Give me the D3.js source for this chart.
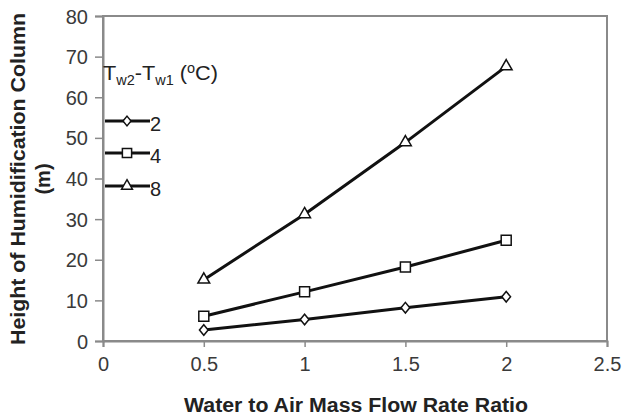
<!DOCTYPE html>
<html>
<head>
<meta charset="utf-8">
<script src="https://cdn.jsdelivr.net/npm/d3@7"></script>
<style>
  body { margin: 0; background: #fff; }
  svg { display: block; font-family: "Liberation Sans", Arial, sans-serif; }
</style>
</head>
<body>
<svg id="chart" width="623" height="416"></svg>
<script>
// data
const ratios = [0.5, 1, 1.5, 2];
const seriesNames = ["2", "4", "8"];
const height2 = [2.7, 5.3, 8.2, 10.9];
const height4 = [6.1, 12.1, 18.2, 24.8];
const height8 = [15.1, 31.2, 48.9, 67.6];
const xTicks = [0, 0.5, 1, 1.5, 2, 2.5];
const yTicks = [0, 10, 20, 30, 40, 50, 60, 70, 80];

const svg = d3.select("#chart");
const margin = { top: 16, right: 16, bottom: 75, left: 103 };
const width = +svg.attr("width"), height = +svg.attr("height");
const plotW = width - margin.left - margin.right;
const plotH = height - margin.top - margin.bottom;

const x = d3.scaleLinear().domain([0, 2.5]).range([0, plotW]);
const y = d3.scaleLinear().domain([0, 80]).range([plotH, 0]);

const g = svg.append("g").attr("transform", `translate(${margin.left},${margin.top})`);

const axisColor = "#8a8a8a";

// plot frame
g.append("rect")
  .attr("x", 0).attr("y", 0)
  .attr("width", plotW).attr("height", plotH)
  .attr("fill", "none")
  .attr("stroke", axisColor)
  .attr("stroke-width", 2);

// axes
const xAxis = g.append("g")
  .attr("transform", `translate(0,${plotH})`)
  .call(d3.axisBottom(x).tickValues(xTicks).tickSize(6).tickPadding(10).tickFormat(d3.format("")));
const yAxis = g.append("g")
  .call(d3.axisLeft(y).tickValues(yTicks).tickSize(8).tickPadding(7));

[xAxis, yAxis].forEach(a => {
  a.select(".domain").attr("stroke", axisColor).attr("stroke-width", 2);
  a.selectAll(".tick line").attr("stroke", axisColor).attr("stroke-width", 1.5);
  a.selectAll(".tick text")
    .attr("fill", "#3a3a3a")
    .style("font-size", "20px")
    .style("font-family", "Liberation Sans, Arial, sans-serif");
});
yAxis.selectAll(".tick text").attr("dy", "0.35em");

// axis titles
svg.append("text")
  .attr("x", 356)
  .attr("y", 412)
  .attr("text-anchor", "middle")
  .attr("textLength", 344)
  .attr("lengthAdjust", "spacingAndGlyphs")
  .style("font-size", "20px")
  .style("font-weight", "bold")
  .attr("fill", "#222")
  .text("Water to Air Mass Flow Rate Ratio");

const yTitle = svg.append("g").attr("transform", "translate(25,179) rotate(-90)");
yTitle.append("text")
  .attr("x", 0).attr("y", 0)
  .attr("text-anchor", "middle")
  .attr("textLength", 332)
  .attr("lengthAdjust", "spacingAndGlyphs")
  .style("font-size", "20px")
  .style("font-weight", "bold")
  .attr("fill", "#222")
  .text("Height of Humidification Column");
yTitle.append("text")
  .attr("x", 0).attr("y", 25)
  .attr("text-anchor", "middle")
  .style("font-size", "20px")
  .style("font-weight", "bold")
  .attr("fill", "#222")
  .text("(m)");

// diamond as in the reference (about 9 wide, 11 tall)
const diamond = {
  draw(ctx, size) {
    const h = Math.sqrt(size) * 0.75, w = h * 0.82;
    ctx.moveTo(0, -h); ctx.lineTo(w, 0); ctx.lineTo(0, h); ctx.lineTo(-w, 0); ctx.closePath();
  }
};

// series
const series = [
  { name: seriesNames[0], values: height2, symbol: diamond, size: 50 },
  { name: seriesNames[1], values: height4, symbol: d3.symbolSquare, size: 100 },
  { name: seriesNames[2], values: height8, symbol: d3.symbolTriangle, size: 60 }
];

const line = d3.line()
  .x((d, i) => x(ratios[i]))
  .y(d => y(d));

series.forEach(s => {
  g.append("path")
    .datum(s.values)
    .attr("fill", "none")
    .attr("stroke", "#111")
    .attr("stroke-width", 3)
    .attr("d", line);

  g.selectAll(null)
    .data(s.values)
    .join("path")
    .attr("transform", (d, i) => `translate(${x(ratios[i])},${y(d)})`)
    .attr("d", d3.symbol().type(s.symbol).size(s.size))
    .attr("fill", "#fff")
    .attr("stroke", "#111")
    .attr("stroke-width", 1.5);
});

// legend
const legend = svg.append("g").attr("transform", `translate(${margin.left},0)`);
const lt = legend.append("text")
  .attr("x", 0).attr("y", 80)
  .style("font-size", "21px")
  .attr("fill", "#222");
lt.append("tspan").text("T");
lt.append("tspan").attr("dy", 5).style("font-size", "14px").text("w2");
lt.append("tspan").attr("dy", -5).text("-T");
lt.append("tspan").attr("dy", 5).style("font-size", "14px").text("w1");
lt.append("tspan").attr("dy", -5).text(" (");
lt.append("tspan").attr("dy", -7).style("font-size", "14px").text("o");
lt.append("tspan").attr("dy", 7).text("C)");
// stretch the title to the width it has in the reference
const ltw = lt.node().getBBox().width;
lt.attr("transform", `scale(${115 / ltw},1)`);

const legendY = [121, 153, 186];
series.forEach((s, i) => {
  const ly = legendY[i];
  legend.append("line")
    .attr("x1", 2).attr("x2", 47)
    .attr("y1", ly).attr("y2", ly)
    .attr("stroke", "#111")
    .attr("stroke-width", 3);
  legend.append("path")
    .attr("transform", `translate(24,${ly})`)
    .attr("d", d3.symbol().type(s.symbol).size(s.size * 0.85))
    .attr("fill", "#fff")
    .attr("stroke", "#111")
    .attr("stroke-width", 1.5);
  legend.append("text")
    .attr("x", 47).attr("y", ly + 10)
    .style("font-size", "20px")
    .attr("fill", "#222")
    .text(s.name);
});
</script>
</body>
</html>
